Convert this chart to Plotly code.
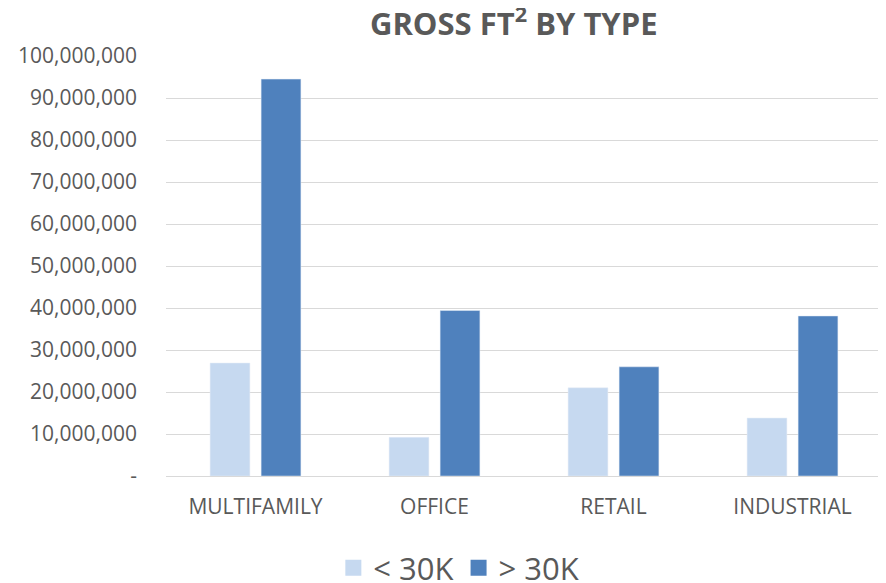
import plotly.graph_objects as go

categories = ['MULTIFAMILY', 'OFFICE', 'RETAIL', 'INDUSTRIAL']
under_30k = [26900000, 9200000, 21000000, 13800000]
over_30k = [94500000, 39400000, 26000000, 38100000]
series_names = ['< 30K', '> 30K']
series_colors = ['#C6D9F0', '#4F81BD']
tick_vals = list(range(0, 100000001, 10000000))
tick_text = ['-'] + [f'{v:,}' for v in tick_vals[1:]]

fig = go.Figure()
for name, vals, color in zip(series_names, [under_30k, over_30k], series_colors):
    fig.add_trace(go.Bar(x=categories, y=vals, name=name, showlegend=False,
                         marker=dict(color=color)))

# legend-only entries so the legend squares come out bigger, like the original
for name, color in zip(series_names, series_colors):
    fig.add_trace(go.Scatter(x=[None], y=[None], mode='markers', name=name,
                             marker=dict(symbol='square', size=20, color=color)))

# page has an 8px body margin, so the figure is a bit smaller than the window
fig.update_layout(
    width=878, height=575,
    margin=dict(l=158, r=4, t=48, b=107, autoexpand=False),
    paper_bgcolor='white', plot_bgcolor='white',
    font=dict(family='Open Sans, Liberation Sans, sans-serif', color='#595959'),
    title=dict(text='<b>GROSS FT<sup>2</sup> BY TYPE</b>', x=0.576, xanchor='center',
               y=0.972, yanchor='middle',
               font=dict(size=31, color='#595959', family='Open Sans, sans-serif')),
    barmode='group', bargap=0.43, bargroupgap=0.22,
    showlegend=True,
    legend=dict(orientation='h', x=0.409, xanchor='center', y=-0.219, yanchor='middle',
                font=dict(size=31, color='#595959'), itemwidth=30),
)
fig.update_yaxes(range=[0, 100000000], tickvals=tick_vals, ticktext=tick_text,
                 showgrid=True, gridcolor='#D9D9D9', gridwidth=1, automargin=False,
                 zeroline=False, tickfont=dict(size=21), ticks='', ticklabelstandoff=28)
fig.update_xaxes(showline=True, linecolor='#D9D9D9', tickfont=dict(size=21),
                 automargin=False, ticklabelstandoff=12)

fig.write_html('out.html')
